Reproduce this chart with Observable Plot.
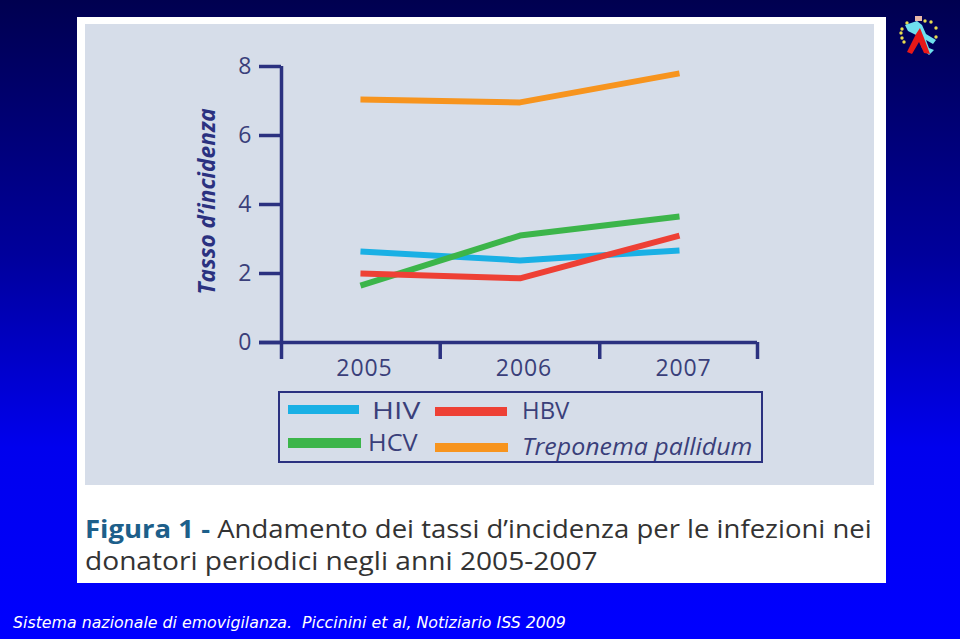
<!DOCTYPE html>
<html lang="it">
<head>
<meta charset="utf-8">
<script src="https://cdn.jsdelivr.net/npm/d3@7"></script>
<script src="https://cdn.jsdelivr.net/npm/@observablehq/plot@0.6"></script>
<style>
html,body{margin:0;padding:0;width:960px;height:639px;overflow:hidden;background:linear-gradient(180deg,#000050 0%,#00009c 40%,#0000ee 70%,#0000ff 100%);}
.abs{position:absolute;white-space:nowrap;}
#page{position:relative;width:960px;height:639px;font-family:"Open Sans",sans-serif;}
#white{left:77px;top:17px;width:809px;height:566px;background:#fff;}
#panel{left:85px;top:24px;width:789px;height:461px;background:#d6dde9;}
#chart{left:0;top:0;}
#chart svg{background:transparent;display:block;}
#chart g[aria-label="x-axis tick label"]{letter-spacing:0.9px;}
#box{left:278px;top:391px;width:481px;height:68px;border:2px solid #2b3180;}
.sw{position:absolute;}
.lg{position:absolute;white-space:nowrap;color:#3a3f7a;font-size:23px;line-height:26px;transform-origin:left center;}
.cap{position:absolute;white-space:nowrap;color:#333;font-size:25px;line-height:30px;font-weight:500;transform-origin:left center;}
.cap b{color:#1d5f8a;font-weight:700;}
#foot{left:13px;top:613px;color:#fff;font:italic 15.8px "DejaVu Sans",sans-serif;}
#logo{left:896px;top:12px;}
</style>
</head>
<body>
<div id="page">
  <div class="abs" id="white"></div>
  <div class="abs" id="panel"></div>
  <div class="abs" id="chart"></div>
  <div class="abs" id="box"></div>
  <div class="sw" style="left:288px;top:405px;width:71px;height:9px;background:#1ab0e5"></div>
  <div class="sw" style="left:435px;top:407px;width:72px;height:9px;background:#ee4035"></div>
  <div class="sw" style="left:288px;top:438px;width:73px;height:10px;background:#3cb54a"></div>
  <div class="sw" style="left:435px;top:443px;width:73px;height:9px;background:#f7941e"></div>
  <div class="lg" style="left:372px;top:397px;transform:scaleX(1.3)">HIV</div>
  <div class="lg" style="left:522px;top:397px;transform:scaleX(1.04)">HBV</div>
  <div class="lg" style="left:368px;top:429px;transform:scaleX(1.1)">HCV</div>
  <div class="lg" style="left:522px;top:433px;font-style:italic;transform:scaleX(1.085)">Treponema pallidum</div>
  <div class="cap" style="left:85px;top:513px;transform:scaleX(1.1)"><b>Figura 1 -</b> Andamento dei tassi d’incidenza per le infezioni nei</div>
  <div class="cap" style="left:85px;top:545px;transform:scaleX(1.125)">donatori periodici negli anni 2005-2007</div>
  <div class="abs" id="foot">Sistema nazionale di emovigilanza.&nbsp; Piccinini et al, Notiziario ISS 2009</div>
  <svg class="abs" id="logo" width="44" height="46" viewBox="0 0 44 46">
    <g fill="#e8dc50">
      <circle cx="11" cy="11" r="1.7"/><circle cx="6" cy="17" r="1.7"/><circle cx="5" cy="21" r="1.7"/><circle cx="6" cy="26" r="1.7"/><circle cx="8" cy="30" r="1.7"/>
      <circle cx="29" cy="9" r="1.7"/><circle cx="35" cy="10" r="1.7"/><circle cx="40" cy="16" r="1.7"/><circle cx="40" cy="25" r="1.7"/>
    </g>
    <path d="M9 13 L21 9 L26 13 L30 22 L40 28 L37 32 L30 28 L33 36 L38 38 L33 43 L26 36 L22 24 L12 19 Z" fill="#6fe0ee"/>
    <path d="M24 16 L28 26 L34 42 L28 41 L23 30 L16 42 L11 40 L20 22 Z" fill="#e81818"/>
    <path d="M19 4 L26 4 L26 9 L19 9 Z" fill="#e8b8a8"/>
  </svg>
</div>
<script>
const years = [2005, 2006, 2007];
const hiv = [2.64, 2.38, 2.67];
const hcv = [1.65, 3.1, 3.65];
const hbv = [2.0, 1.86, 3.1];
const treponema = [7.04, 6.96, 7.8];
const seriesNames = ["HIV", "HCV", "HBV", "Treponema pallidum"];
const seriesColors = ["#1ab0e5", "#3cb54a", "#ee4035", "#f7941e"];
const seriesValues = [hiv, hcv, hbv, treponema];
const yTicks = [0, 2, 4, 6, 8];
const xBounds = [2004.505, 2005.5, 2006.5, 2007.489];
const axisColor = "#2b3180";
const textColor = "#3a3f7a";

const rows = seriesNames.flatMap((s, i) => years.map((year, j) => ({series: s, year, value: seriesValues[i][j]})));

const plot = Plot.plot({
  width: 960, height: 639,
  marginLeft: 281, marginRight: 203, marginTop: 66, marginBottom: 297,
  style: {background: "transparent", fontFamily: "'Open Sans',sans-serif"},
  x: {domain: [xBounds[0], xBounds[3]], label: null},
  y: {domain: [0, 8], label: null},
  color: {domain: seriesNames, range: seriesColors},
  marks: [
    Plot.axisY({ticks: yTicks, tickSize: 22, tickPadding: 8, stroke: axisColor, strokeWidth: 3.5, strokeOpacity: 1, fill: textColor, fontSize: 23, label: null, tickFormat: d => d}),
    Plot.axisX({ticks: years, tickSize: 0, tickPadding: 17, dx: 4, fill: textColor, fontSize: 23, label: null, tickFormat: d => String(d)}),
    Plot.axisX({ticks: xBounds, tickSize: 17, stroke: axisColor, strokeWidth: 3.5, strokeOpacity: 1, label: null, tickFormat: () => ""}),
    Plot.ruleX([xBounds[0]], {stroke: axisColor, strokeWidth: 3.5}),
    Plot.ruleY([0], {stroke: axisColor, strokeWidth: 3.5, insetLeft: -22}),
    Plot.text(["Tasso d’incidenza"], {y: [4.09], frameAnchor: "left", dx: -74, rotate: -90, textAnchor: "middle", fontStyle: "italic", fontWeight: 700, fontSize: 22.7, fill: axisColor}),
    Plot.line(rows, {x: "year", y: "value", z: "series", stroke: "series", strokeWidth: 6, strokeLinecap: "butt", strokeLinejoin: "miter", curve: "linear"})
  ]
});
document.getElementById("chart").appendChild(plot);
</script>
</body>
</html>
